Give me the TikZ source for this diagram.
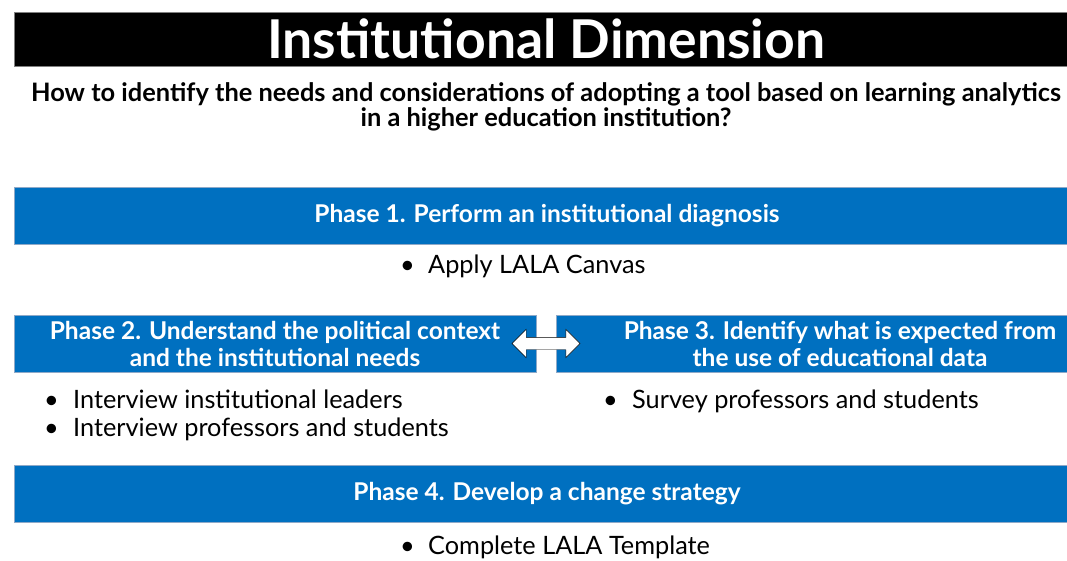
\documentclass[tikz,border=0pt]{standalone}
\usepackage{fontspec}
\setmainfont{Lato}
\usetikzlibrary{positioning}
\usetikzlibrary{shapes.arrows}
\usetikzlibrary{calc}
\definecolor{phaseblue}{HTML}{0070C0}
\definecolor{phaseedge}{HTML}{8EA9C8}

\begin{document}
\begin{tikzpicture}
[
x=1pt, y=1pt,
titlebar/.style={rectangle, fill=black, draw=gray, text=white, minimum width=1064pt, minimum height=54pt, font=\bfseries\fontsize{53.5}{55}\selectfont},
phase/.style={rectangle, fill=phaseblue, draw=phaseedge, text=white, minimum height=57pt, align=center, font=\bfseries\fontsize{24.5}{27}\selectfont},
question/.style={align=center, font=\bfseries\fontsize{25.4}{25}\selectfont},
item/.style={anchor=base west, inner sep=0pt, font=\fontsize{25.3}{28}\selectfont},
swap-arrow/.style={double arrow, draw=black, fill=white, inner sep=6pt, double arrow head extend=8pt, minimum height=68pt},
]
\useasboundingbox (0,0) rectangle (1067,-561);
\node (title) [titlebar] at (546,-39) {Institutional Dimension};
\node (quest) [question] at (546,-107) {How to identify the needs and considerations of adopting a tool based on learning analytics\\in a higher education institution?};
% phases
\node (p1) [phase, minimum width=1066pt] at (547,-215.5) {Phase 1. Perform an institutional diagnosis};
\node (p2) [phase, minimum width=522pt] at (275,-343.5) {Phase 2. Understand the political context\\and the institutional needs};
\node (p3) [phase, minimum width=568pt] at (840,-343.5) {Phase 3. Identify what is expected from\\the use of educational data};
\node (p4) [phase, minimum width=1066pt] at (547,-493.5) {Phase 4. Develop a change strategy};
\node (swap) [swap-arrow] at ($(p2.east)!0.5!(p3.west)$) {};
% tasks
\node (t1) [item] at (400,-273) {\makebox[28pt][l]{\textbullet}Apply LALA Canvas};
\node (t2a) [item] at (44,-408) {\makebox[29pt][l]{\textbullet}Interview institutional leaders};
\node (t2b) [item] at (44,-436) {\makebox[29pt][l]{\textbullet}Interview professors and students};
\node (t3) [item] at (603,-408) {\makebox[29pt][l]{\textbullet}Survey professors and students};
\node (t4) [item] at (400,-554) {\makebox[28pt][l]{\textbullet}Complete LALA Template};
\end{tikzpicture}
\end{document}
